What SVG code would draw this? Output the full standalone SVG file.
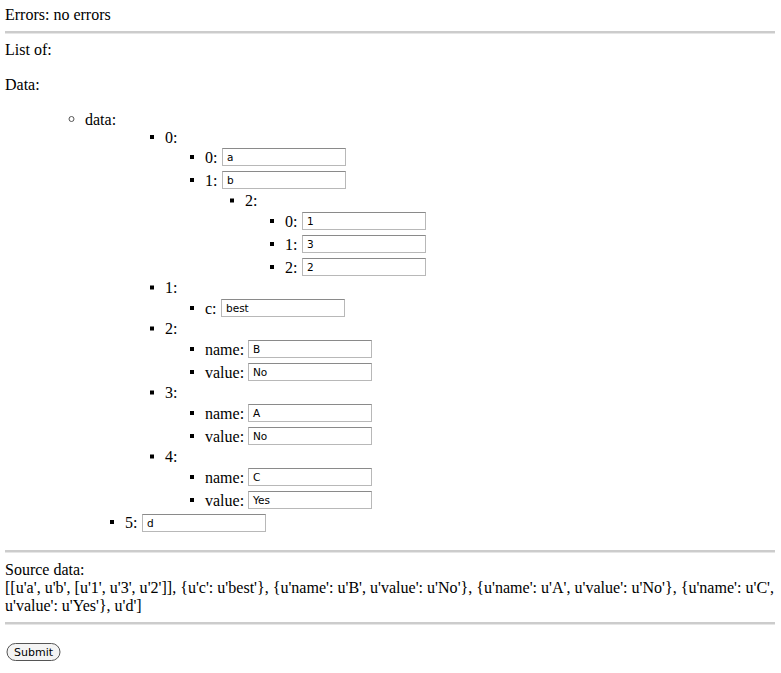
<svg xmlns="http://www.w3.org/2000/svg" width="781" height="673" viewBox="0 0 781 673">
<style>
.t{font-family:"Liberation Serif","Times New Roman",serif;font-size:16px;fill:#000}
.v{font-family:"DejaVu Sans","Liberation Sans",sans-serif;font-size:10.5px;fill:#000}
.box{fill:#fff;stroke:#b8b8b8;stroke-width:1}
.boxtop{stroke:#8a8a8a;stroke-width:1}
.hr{stroke:#9a9a9a;stroke-width:1.2}
.hr2{stroke:#e6e6e6;stroke-width:1}
.sq{fill:#000}
</style>
<defs>
<g id="inp">
<rect class="box" x="0.5" y="0.5" width="123" height="17"/>
<line class="boxtop" x1="0.5" y1="0.5" x2="123.5" y2="0.5"/>
</g>
<rect id="b" class="sq" x="0" y="0" width="4" height="4"/>
</defs>
<rect width="781" height="673" fill="#fff"/>
<text class="t" x="5" y="20">Errors: no errors</text>
<line class="hr" x1="5" y1="32" x2="775" y2="32"/><line class="hr2" x1="5" y1="33.5" x2="775" y2="33.5"/>
<text class="t" x="5" y="55">List of:</text>
<text class="t" x="5" y="90">Data:</text>
<g id="data">
<circle cx="71.5" cy="119" r="2.5" fill="none" stroke="#555" stroke-width="1"/>
<text class="t" x="85" y="124.5">data:</text>
</g>
<g id="n0">
<use href="#b" x="150" y="135"/><text class="t" x="165" y="142.5">0:</text>
</g>
<g id="n0-0">
<use href="#b" x="190" y="155"/><text class="t" x="205" y="162.5">0:</text>
<use href="#inp" x="222" y="148"/><text class="v" x="227" y="161">a</text>
</g>
<g id="n0-1">
<use href="#b" x="190" y="178"/><text class="t" x="205" y="185.5">1:</text>
<use href="#inp" x="222" y="171"/><text class="v" x="227" y="184">b</text>
</g>
<g id="n0-2">
<use href="#b" x="230" y="198.5"/><text class="t" x="245" y="206">2:</text>
</g>
<g id="n0-2-0">
<use href="#b" x="270" y="219"/><text class="t" x="285" y="226.5">0:</text>
<use href="#inp" x="302" y="212"/><text class="v" x="307" y="225">1</text>
</g>
<g id="n0-2-1">
<use href="#b" x="270" y="242"/><text class="t" x="285" y="249.5">1:</text>
<use href="#inp" x="302" y="235"/><text class="v" x="307" y="248">3</text>
</g>
<g id="n0-2-2">
<use href="#b" x="270" y="265"/><text class="t" x="285" y="272.5">2:</text>
<use href="#inp" x="302" y="258"/><text class="v" x="307" y="271">2</text>
</g>
<g id="n1">
<use href="#b" x="150" y="285.5"/><text class="t" x="165" y="293">1:</text>
</g>
<g id="n1-c">
<use href="#b" x="190" y="306"/><text class="t" x="205" y="313.5">c:</text>
<use href="#inp" x="221" y="299"/><text class="v" x="226" y="312">best</text>
</g>
<g id="n2">
<use href="#b" x="150" y="326.5"/><text class="t" x="165" y="334">2:</text>
</g>
<g id="n2-name">
<use href="#b" x="190" y="347"/><text class="t" x="205" y="354.5">name:</text>
<use href="#inp" x="248" y="340"/><text class="v" x="253" y="353">B</text>
</g>
<g id="n2-value">
<use href="#b" x="190" y="370"/><text class="t" x="205" y="377.5">value:</text>
<use href="#inp" x="248" y="363"/><text class="v" x="253" y="376">No</text>
</g>
<g id="n3">
<use href="#b" x="150" y="390.5"/><text class="t" x="165" y="398">3:</text>
</g>
<g id="n3-name">
<use href="#b" x="190" y="411"/><text class="t" x="205" y="418.5">name:</text>
<use href="#inp" x="248" y="404"/><text class="v" x="253" y="417">A</text>
</g>
<g id="n3-value">
<use href="#b" x="190" y="434"/><text class="t" x="205" y="441.5">value:</text>
<use href="#inp" x="248" y="427"/><text class="v" x="253" y="440">No</text>
</g>
<g id="n4">
<use href="#b" x="150" y="454.5"/><text class="t" x="165" y="462">4:</text>
</g>
<g id="n4-name">
<use href="#b" x="190" y="475"/><text class="t" x="205" y="482.5">name:</text>
<use href="#inp" x="248" y="468"/><text class="v" x="253" y="481">C</text>
</g>
<g id="n4-value">
<use href="#b" x="190" y="498"/><text class="t" x="205" y="505.5">value:</text>
<use href="#inp" x="248" y="491"/><text class="v" x="253" y="504">Yes</text>
</g>
<g id="n5">
<use href="#b" x="110" y="520"/><text class="t" x="125" y="527.5">5:</text>
<use href="#inp" x="142" y="514"/><text class="v" x="147" y="527">d</text>
</g>
<line class="hr" x1="5" y1="551" x2="775" y2="551"/><line class="hr2" x1="5" y1="552.5" x2="775" y2="552.5"/>
<text class="t" x="5" y="575">Source data:</text>
<text class="t" x="5" y="593" textLength="769" lengthAdjust="spacingAndGlyphs">[[u'a', u'b', [u'1', u'3', u'2']], {u'c': u'best'}, {u'name': u'B', u'value': u'No'}, {u'name': u'A', u'value': u'No'}, {u'name': u'C',</text>
<text class="t" x="5" y="611">u'value': u'Yes'}, u'd']</text>
<line class="hr" x1="5" y1="623" x2="775" y2="623"/><line class="hr2" x1="5" y1="624.5" x2="775" y2="624.5"/>
<g id="submit">
<rect x="7" y="643.5" width="53" height="17" rx="8.5" ry="8.5" fill="#f4f4f4" stroke="#555" stroke-width="1"/>
<text x="33.5" y="656" text-anchor="middle" style="font-family:'DejaVu Sans','Liberation Sans',sans-serif;font-size:11px;fill:#000">Submit</text>
</g>
</svg>
